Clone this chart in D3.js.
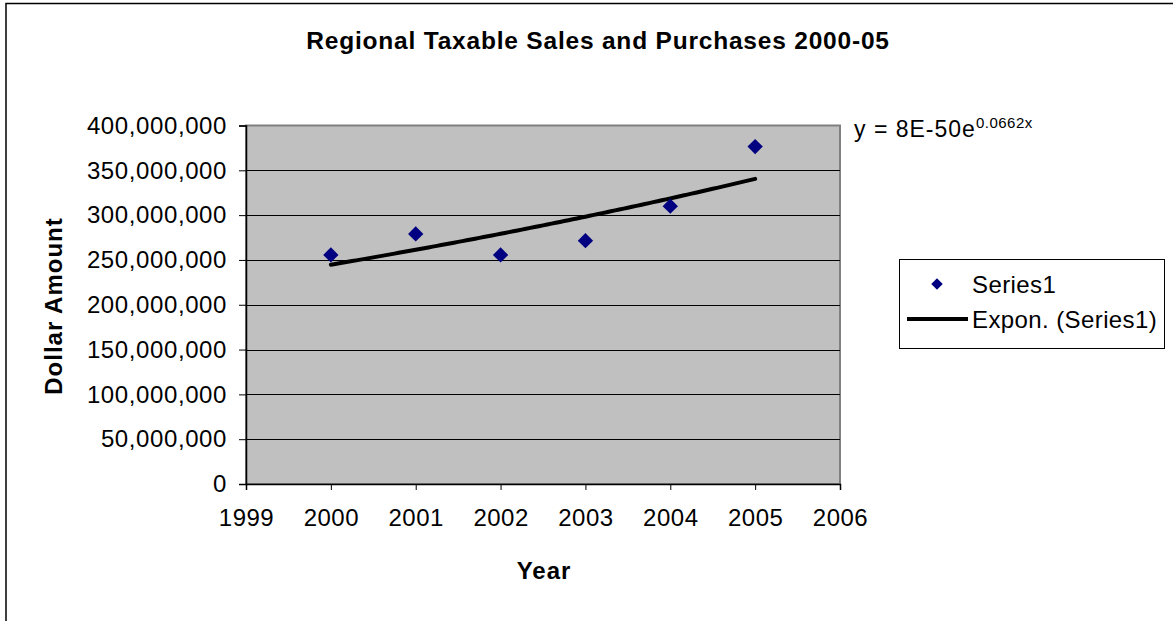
<!DOCTYPE html>
<html>
<head>
<meta charset="utf-8">
<script src="https://cdn.jsdelivr.net/npm/d3@7"></script>
<style>
  html, body { margin: 0; padding: 0; background: #fff; }
  svg { display: block; font-family: Arial, "Liberation Sans", sans-serif; }
</style>
</head>
<body>
<svg id="chart" width="1173" height="621"></svg>
<script>
// Regional taxable sales and purchases, dollars per year
const years = [2000, 2001, 2002, 2003, 2004, 2005];
const amounts = [255600000, 279000000, 255600000, 271500000, 310000000, 376500000];
const xTicks = [1999, 2000, 2001, 2002, 2003, 2004, 2005, 2006];
const yTicks = [0, 50000000, 100000000, 150000000, 200000000, 250000000, 300000000, 350000000, 400000000];
const titleText = "Regional Taxable Sales and Purchases 2000-05";
const xTitle = "Year";
const yTitle = "Dollar Amount";
const equationMain = "y = 8E-50e";
const equationExp = "0.0662x";
const legendLabels = ["Series1", "Expon. (Series1)"];

const svg = d3.select("#chart");
const plot = { left: 246, right: 840, top: 125.5, bottom: 484 };
const fontFamily = "Arial, 'Liberation Sans', sans-serif";

const x = d3.scaleLinear().domain([1999, 2006]).range([plot.left, plot.right]);
const y = d3.scaleLinear().domain([0, 400000000]).range([plot.bottom, plot.top]);

// Outer chart frame (runs off the right and bottom edges)
svg.append("rect")
  .attr("x", 6).attr("y", 3.5).attr("width", 1200).attr("height", 700)
  .attr("fill", "#fff").attr("stroke", "#000").attr("stroke-width", 1.5);

// Plot area
svg.append("rect")
  .attr("x", plot.left).attr("y", plot.top)
  .attr("width", plot.right - plot.left).attr("height", plot.bottom - plot.top)
  .attr("fill", "#c0c0c0").attr("stroke", "#808080").attr("stroke-width", 2);

// Horizontal gridlines
svg.append("g").selectAll("line")
  .data(yTicks.filter(v => v > 0 && v < 400000000))
  .join("line")
  .attr("x1", plot.left).attr("x2", plot.right)
  .attr("y1", d => Math.round(y(d)) + 0.5).attr("y2", d => Math.round(y(d)) + 0.5)
  .attr("stroke", "#000").attr("stroke-width", 1);

// Y axis
const yAxis = svg.append("g")
  .attr("transform", `translate(${plot.left},0)`)
  .call(d3.axisLeft(y).tickValues(yTicks).tickSize(7).tickPadding(12)
    .tickFormat(d3.format(",")));
yAxis.select(".domain").attr("stroke", "#000").attr("stroke-width", 1.5);
yAxis.selectAll(".tick line").attr("stroke", "#000");
yAxis.selectAll(".tick text")
  .attr("fill", "#000").attr("font-size", 24).attr("letter-spacing", "0.6px")
  .attr("font-family", fontFamily);

// X axis
const xAxis = svg.append("g")
  .attr("transform", `translate(0,${plot.bottom})`)
  .call(d3.axisBottom(x).tickValues(xTicks).tickSize(6).tickPadding(19)
    .tickFormat(d3.format("d")));
xAxis.select(".domain").attr("stroke", "#000").attr("stroke-width", 1.5);
xAxis.selectAll(".tick line").attr("stroke", "#000");
xAxis.selectAll(".tick text")
  .attr("fill", "#000").attr("font-size", 24).attr("letter-spacing", "0.5px")
  .attr("font-family", fontFamily);

// Exponential trendline fitted by least squares on ln(amount)
const n = years.length;
const lnY = amounts.map(v => Math.log(v));
const mx = d3.mean(years), my = d3.mean(lnY);
const slope = d3.sum(years, (t, i) => (t - mx) * (lnY[i] - my)) / d3.sum(years, t => (t - mx) ** 2);
const intercept = my - slope * mx;
const trend = d3.range(0, 101).map(k => {
  const t = years[0] + (years[n - 1] - years[0]) * k / 100;
  return [t, Math.exp(intercept + slope * t)];
});
svg.append("path")
  .datum(trend)
  .attr("fill", "none").attr("stroke", "#000").attr("stroke-width", 4)
  .attr("stroke-linecap", "round")
  .attr("d", d3.line().x(d => x(d[0])).y(d => y(d[1])));

// Data markers
const diamond = d3.symbol().type(d3.symbolDiamond2).size(150);
svg.append("g").selectAll("path")
  .data(years.map((t, i) => [t, amounts[i]]))
  .join("path")
  .attr("transform", d => `translate(${x(d[0])},${y(d[1])})`)
  .attr("d", diamond)
  .attr("fill", "#000080");

// Title and axis titles
svg.append("text")
  .attr("x", 598).attr("y", 49)
  .attr("text-anchor", "middle")
  .attr("font-size", 24.5).attr("font-weight", "bold").attr("letter-spacing", "0.8px")
  .text(titleText);

svg.append("text")
  .attr("x", 544).attr("y", 579)
  .attr("text-anchor", "middle")
  .attr("font-size", 24).attr("font-weight", "bold").attr("letter-spacing", "1px")
  .text(xTitle);

svg.append("text")
  .attr("transform", "translate(62,306) rotate(-90)")
  .attr("text-anchor", "middle")
  .attr("font-size", 24).attr("font-weight", "bold").attr("letter-spacing", "1px")
  .text(yTitle);

// Trendline equation
const eq = svg.append("text")
  .attr("x", 854).attr("y", 137)
  .attr("font-size", 23).attr("letter-spacing", "1px");
eq.append("tspan").text(equationMain);
eq.append("tspan").attr("dy", -9).attr("font-size", 15).attr("letter-spacing", "0.5px").text(equationExp);

// Legend
const legend = svg.append("g");
legend.append("rect")
  .attr("x", 899.5).attr("y", 259.5).attr("width", 265).attr("height", 89)
  .attr("fill", "#fff").attr("stroke", "#000").attr("stroke-width", 1);
legend.append("path")
  .attr("transform", "translate(937,284)")
  .attr("d", d3.symbol().type(d3.symbolDiamond2).size(85))
  .attr("fill", "#000080");
legend.append("line")
  .attr("x1", 907).attr("x2", 968).attr("y1", 319).attr("y2", 319)
  .attr("stroke", "#000").attr("stroke-width", 4);
legend.selectAll("text.lab")
  .data(legendLabels)
  .join("text")
  .attr("class", "lab")
  .attr("x", (d, i) => i === 0 ? 972 : 972)
  .attr("y", (d, i) => i === 0 ? 293 : 328)
  .attr("font-size", 24).attr("letter-spacing", "0.4px")
  .text(d => d);
</script>
</body>
</html>
